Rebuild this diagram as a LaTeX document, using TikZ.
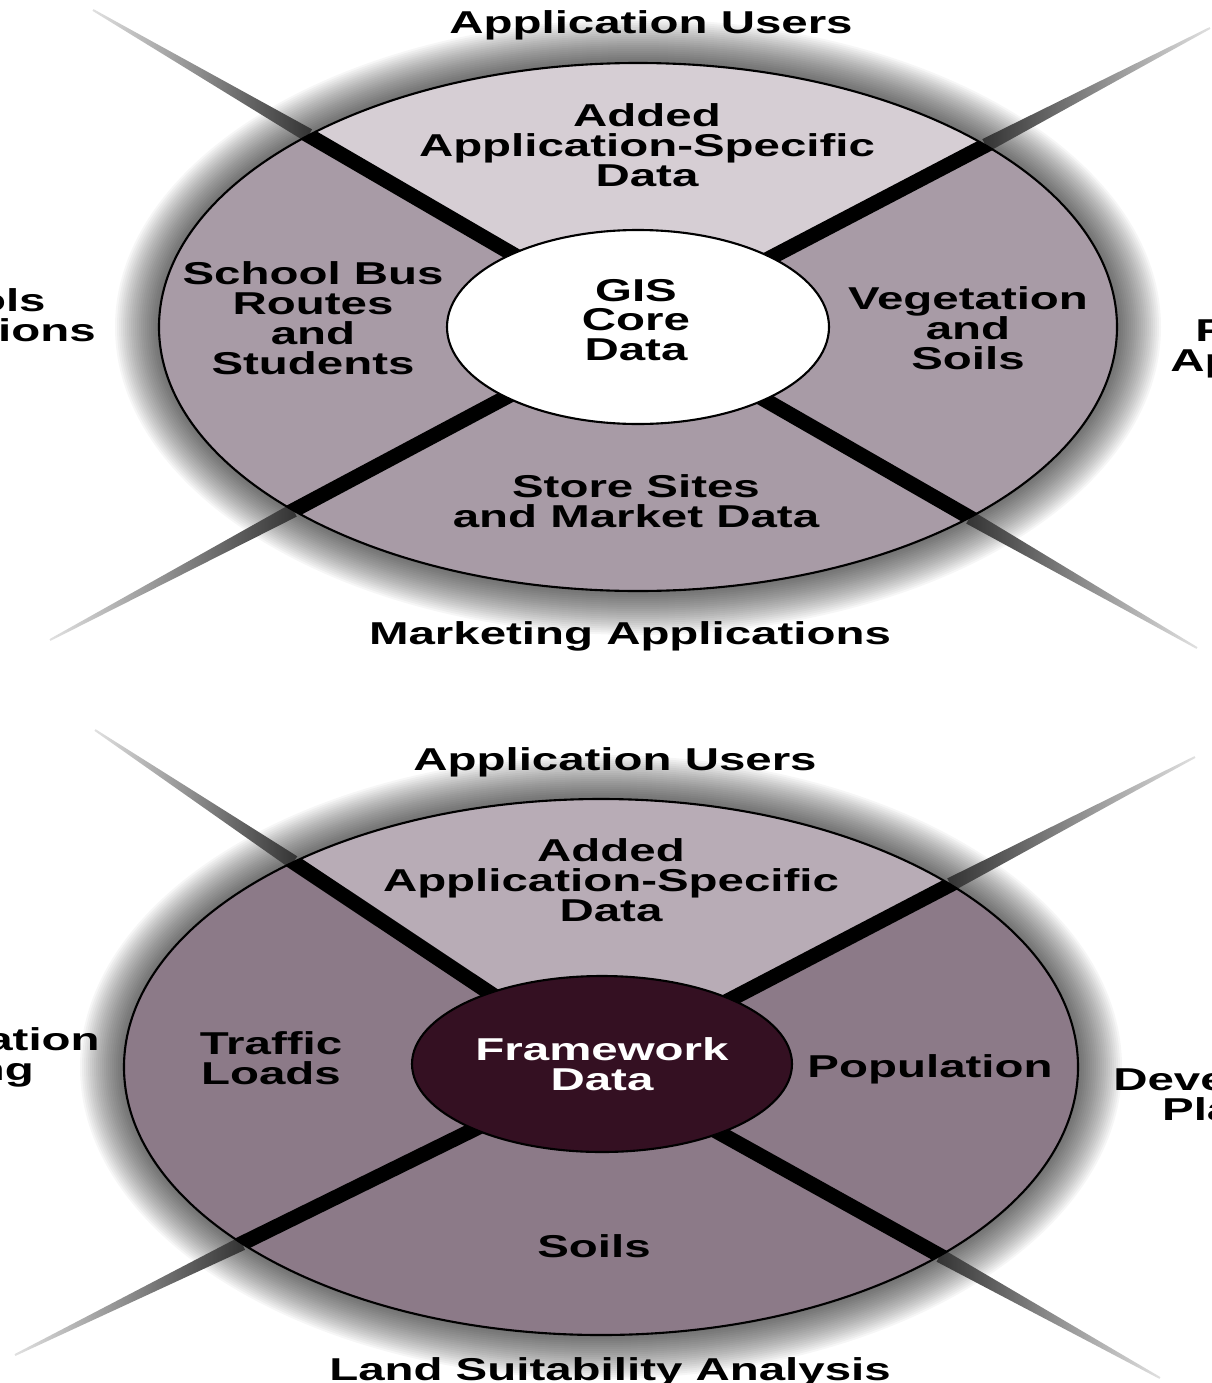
\documentclass[tikz,border=0pt]{standalone}
\usepackage{fontspec}
\setmainfont{Liberation Sans}[FakeStretch=1.5]
\usetikzlibrary{calc,intersections}
\definecolor{mauveA}{RGB}{168,155,166}
\definecolor{lightA}{RGB}{214,206,212}
\definecolor{mauveB}{RGB}{140,122,136}
\definecolor{lightB}{RGB}{184,172,182}
\definecolor{coreB}{RGB}{52,16,34}

\begin{document}
\begin{tikzpicture}[x=0.02cm, y=-0.02cm,
  every node/.style={font=\fontsize{18}{17}\selectfont\bfseries, align=center, inner sep=0pt},
  spoke/.style={line width=0.3cm},
  rim/.style={line width=1.2pt}]

\useasboundingbox (0,0) rectangle (1211,1383);
\clip (0,0) rectangle (1211,1383);

% upper wheel
\coordinate (cA) at (638,327);
\foreach \k in {1,...,22}
  \fill[black, opacity=0.035] (cA) ellipse [x radius=479+2*\k, y radius=264+2*\k];
\path[name path=rimA] (cA) ellipse [x radius=479, y radius=264];
\foreach \tx/\ty/\lc/\rc in {93/10/black!12/black!80, 1210/28/black!80/black!12,
                             50/640/black!12/black!80, 1197/648/black!80/black!12} {
  \path[name path=rayA] (cA) -- (\tx,\ty);
  \path[name intersections={of=rayA and rimA, by=eA}];
  \shade[left color=\lc, right color=\rc]
    ($(eA)!0.14cm!90:(\tx,\ty)$) -- ($(\tx,\ty)!0.02cm!-90:(eA)$)
    -- ($(\tx,\ty)!0.02cm!90:(eA)$) -- ($(eA)!0.14cm!-90:(\tx,\ty)$) -- cycle;
}
\fill[mauveA] (cA) ellipse [x radius=479, y radius=264];
\begin{scope}
  \clip (cA) ellipse [x radius=479, y radius=264];
  \fill[lightA] (cA) -- (93,10) -- (1210,28) -- cycle;
  \foreach \tx/\ty in {93/10, 1210/28, 50/640, 1197/648}
    \draw[spoke] (cA) -- (\tx,\ty);
\end{scope}
\draw[rim] (cA) ellipse [x radius=479, y radius=264];
\draw[rim, fill=white] (cA) ellipse [x radius=191, y radius=97];

\node (usersA) at (651,25) {Application Users};
\node (addedA) at (647,145) {Added\\Application-Specific\\Data};
\node (busA) at (313,318) {School Bus\\Routes\\and\\Students};
\node (coreA) at (636,320) {GIS\\Core\\Data};
\node (vegA) at (968,328) {Vegetation\\and\\Soils};
\node (storeA) at (636,501) {Store Sites\\and Market Data};
\node (marketA) at (630,636) {Marketing Applications};
\node[anchor=east] (schoolsA) at (96,318) {Schools\\Applications};
\node[anchor=west, align=left] (forestA) at (1170,349) {\hspace*{0.5cm}Forestry\\Applications};

% lower wheel
\coordinate (cB) at (601,1067);
\foreach \k in {1,...,22}
  \fill[black, opacity=0.035] (cB) ellipse [x radius=477+2*\k, y radius=268+2*\k];
\path[name path=rimB] (cB) ellipse [x radius=477, y radius=268];
\foreach \tx/\ty/\lc/\rc in {95/730/black!12/black!80, 1195/757/black!80/black!12,
                             15/1355/black!12/black!80, 1160/1378/black!80/black!12} {
  \path[name path=rayB] (cB) -- (\tx,\ty);
  \path[name intersections={of=rayB and rimB, by=eB}];
  \shade[left color=\lc, right color=\rc]
    ($(eB)!0.14cm!90:(\tx,\ty)$) -- ($(\tx,\ty)!0.02cm!-90:(eB)$)
    -- ($(\tx,\ty)!0.02cm!90:(eB)$) -- ($(eB)!0.14cm!-90:(\tx,\ty)$) -- cycle;
}
\fill[mauveB] (cB) ellipse [x radius=477, y radius=268];
\begin{scope}
  \clip (cB) ellipse [x radius=477, y radius=268];
  \fill[lightB] (cB) -- (95,730) -- (1195,757) -- cycle;
  \foreach \tx/\ty in {95/730, 1195/757, 15/1355, 1160/1378}
    \draw[spoke] (cB) -- (\tx,\ty);
\end{scope}
\draw[rim] (cB) ellipse [x radius=477, y radius=268];
\draw[rim, fill=coreB] (602,1064) ellipse [x radius=190, y radius=88];

\node (usersB) at (615,762) {Application Users};
\node (addedB) at (611,880) {Added\\Application-Specific\\Data};
\node (trafficB) at (271,1058) {Traffic\\Loads};
\node[text=white] (coreB) at (602,1064) {Framework\\Data};
\node (popB) at (930,1069) {Population};
\node (soilsB) at (594,1246) {Soils};
\node (landB) at (610,1372) {Land Suitability Analysis};
\node[anchor=east] (transB) at (100,1057) {Transportation\\Planning};
\node[anchor=west] (devB) at (1113,1097) {Development\\Planning};

\end{tikzpicture}
\end{document}
